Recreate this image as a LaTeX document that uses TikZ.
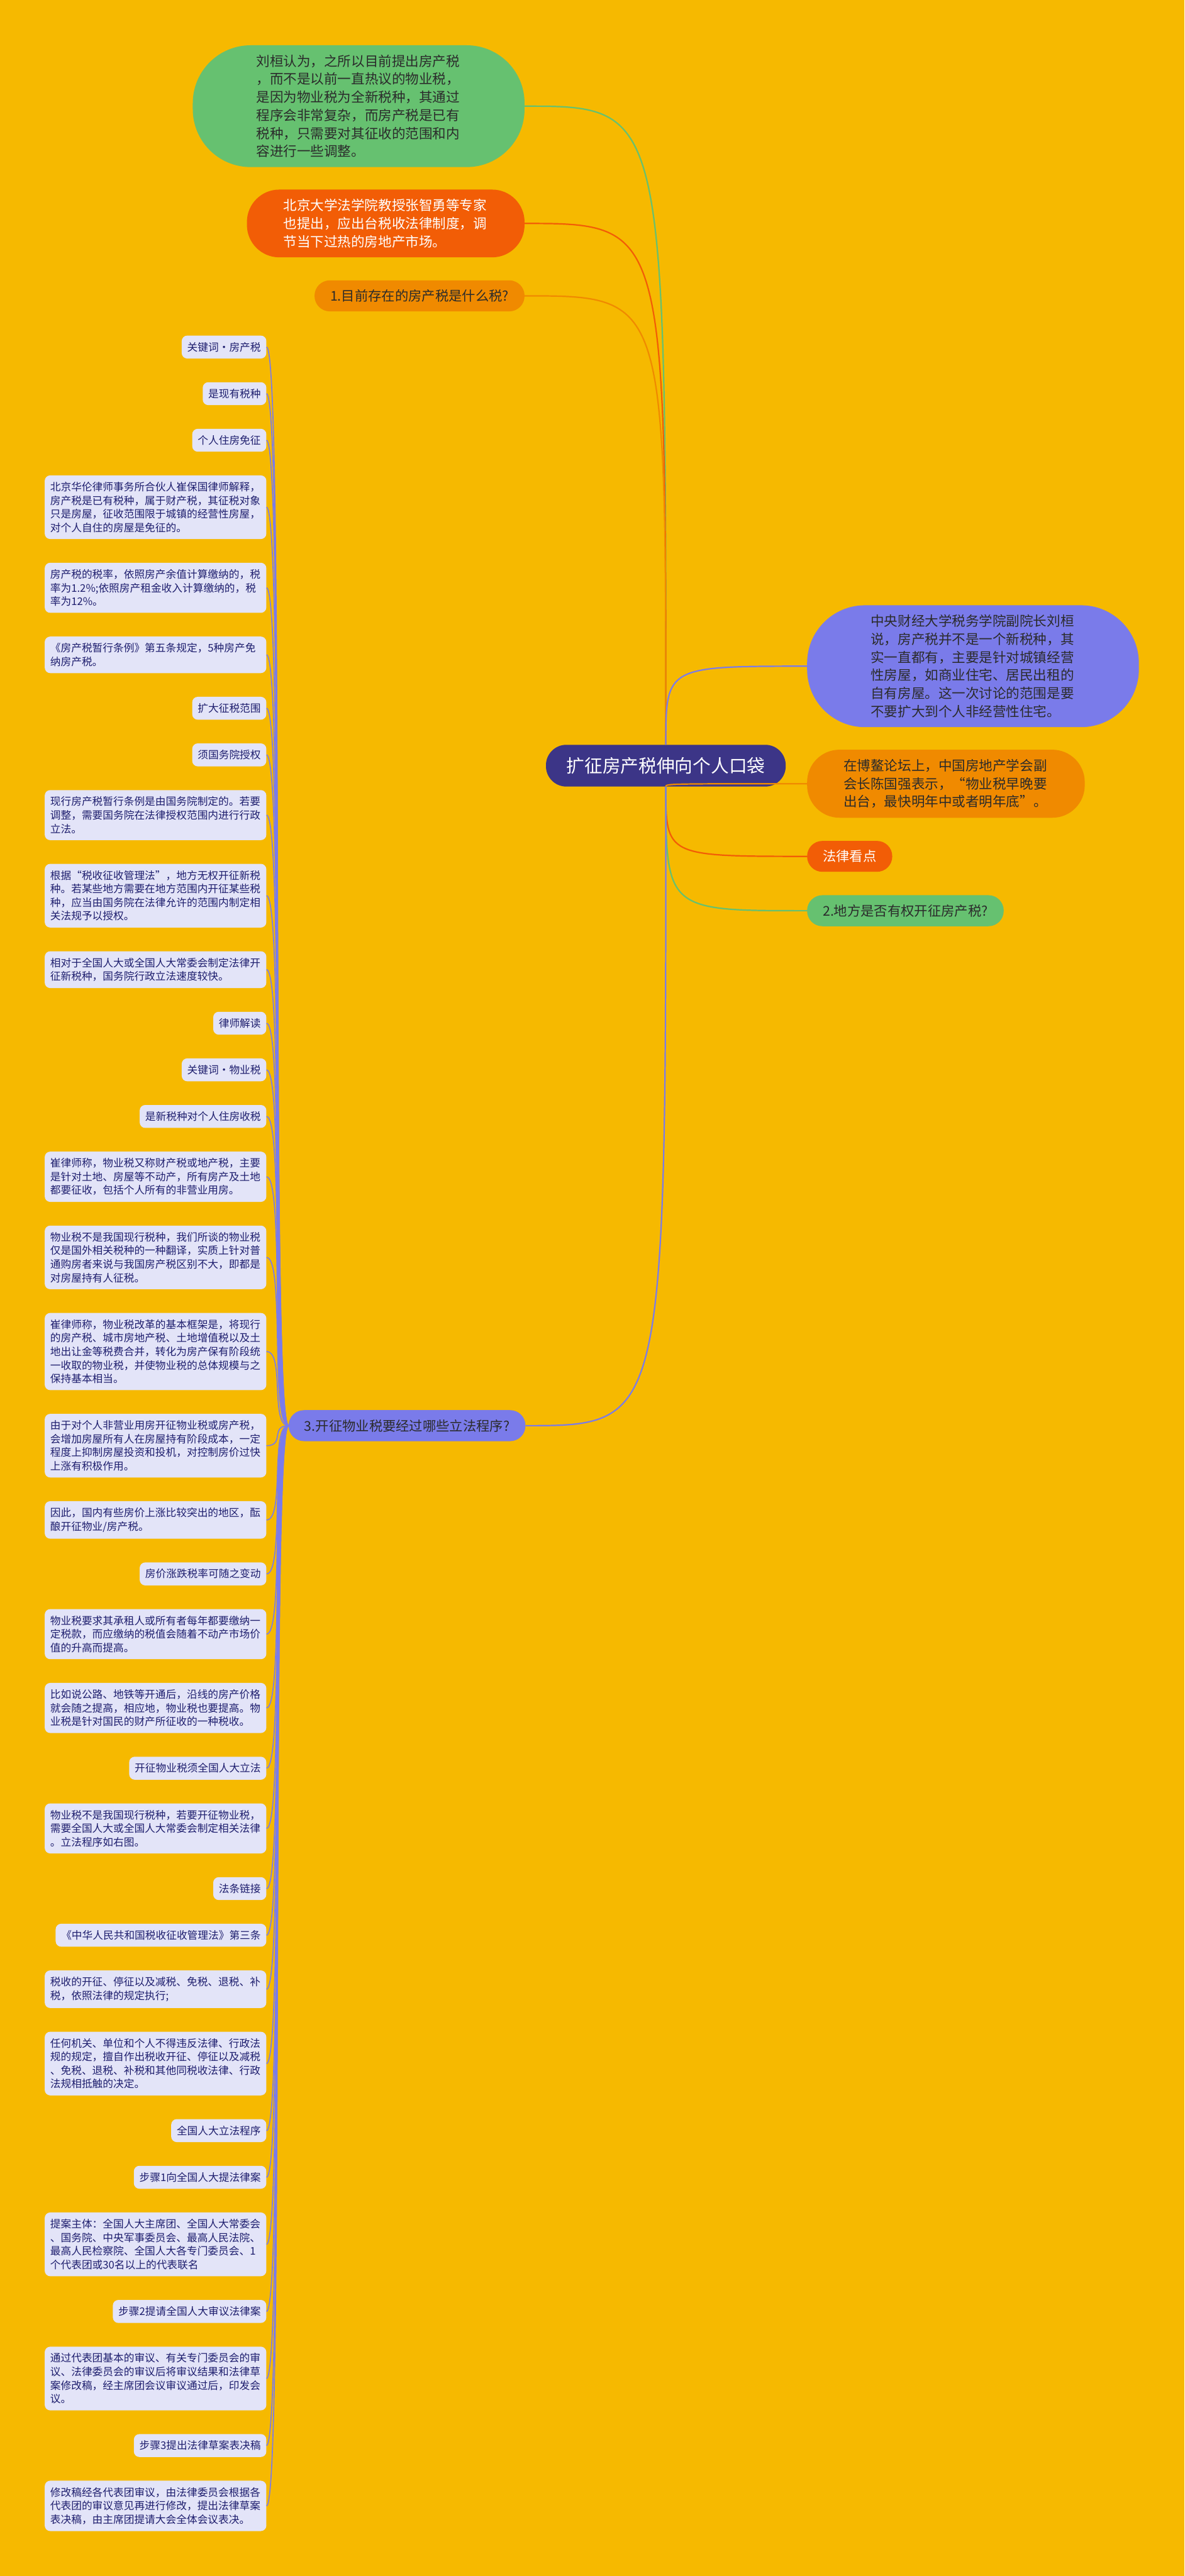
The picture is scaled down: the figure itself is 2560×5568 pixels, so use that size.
\documentclass[tikz,border=0pt]{standalone}
\usepackage{fontspec}
\setmainfont{Noto Sans CJK SC}
\usepackage{xcolor}
\usepackage{tikz}
\usetikzlibrary{positioning}

\definecolor{bg}{HTML}{F6B900}
\definecolor{rootblue}{HTML}{3C3587}
\definecolor{mint}{HTML}{66C170}
\definecolor{tomato}{HTML}{F25D06}
\definecolor{amber}{HTML}{F08A00}
\definecolor{periwinkle}{HTML}{7A7BEA}
\definecolor{lavender}{HTML}{E3E4F8}
\definecolor{navytext}{HTML}{1E1E6E}
\definecolor{darktext}{HTML}{2B2B2B}

\begin{document}
\begin{tikzpicture}[
          x=0.2mm, y=-0.2mm,
          node distance=10.1mm and 10mm,
          rootnode/.style={fill=rootblue,text=white,rounded corners=8.8mm,inner xsep=8.9mm,inner ysep=5.4mm,font=\fontsize{22.2pt}{26pt}\selectfont},
          branchnode/.style={text=darktext,rounded corners=6.6mm,inner xsep=6.8mm,inner ysep=4mm,font=\fontsize{16.5pt}{20pt}\selectfont},
          bubblenode/.style={text width=88.4mm,align=left,inner ysep=4.1mm,font=\fontsize{16.67pt}{22.2pt}\selectfont},
          widebubble/.style={bubblenode,inner xsep=27.5mm,rounded corners=25mm},
          slimbubble/.style={bubblenode,inner xsep=15.8mm,rounded corners=14mm},
          leafnode/.style={fill=lavender,text=navytext,rounded corners=2.4mm,inner xsep=2.4mm,inner ysep=2.85mm,font=\fontsize{12.92pt}{16.7pt}\selectfont,anchor=north east},
          notenode/.style={leafnode,text width=91mm,align=left},
          stackbelow/.style={below=of #1.south east,anchor=north east},
          rootedge/.style={line width=0.6mm},
          twig/.style={periwinkle,line width=0.45mm}
          ]

          \fill[bg] (0,0) rectangle (2560,5568);
          \useasboundingbox (0,0) rectangle (2560,5568);

          \node[rootnode] (root) at (1439,1655) {扩征房产税伸向个人口袋};

          \node[widebubble,fill=mint,text=darktext,anchor=east] (g1) at (1134,229.5) {刘桓认为，之所以目前提出房产税\\，而不是以前一直热议的物业税，\\是因为物业税为全新税种，其通过\\程序会非常复杂，而房产税是已有\\税种，只需要对其征收的范围和内\\容进行一些调整。};
          \node[slimbubble,fill=tomato,text=white,anchor=east] (t1) at (1134,483) {北京大学法学院教授张智勇等专家\\也提出，应出台税收法律制度，调\\节当下过热的房地产市场。};
          \node[branchnode,fill=amber,anchor=east] (q1) at (1134,639.5) {1.目前存在的房产税是什么税?};

          \node[widebubble,fill=periwinkle,text=darktext,anchor=west] (p1) at (1744,1440) {中央财经大学税务学院副院长刘桓\\说，房产税并不是一个新税种，其\\实一直都有，主要是针对城镇经营\\性房屋，如商业住宅、居民出租的\\自有房屋。这一次讨论的范围是要\\不要扩大到个人非经营性住宅。};
          \node[slimbubble,fill=amber,text=darktext,anchor=west] (a2) at (1744,1694) {在博鳌论坛上，中国房地产学会副\\会长陈国强表示，“物业税早晚要\\出台，最快明年中或者明年底”。};
          \node[branchnode,fill=tomato,text=white,anchor=west] (law) at (1744,1851) {法律看点};
          \node[branchnode,fill=mint,anchor=west] (q2) at (1744,1968.5) {2.地方是否有权开征房产税?};
          \node[branchnode,fill=periwinkle,anchor=east] (q3) at (1136,3081.5) {3.开征物业税要经过哪些立法程序?};

          \node[leafnode] (c1) at (576,725) {关键词·房产税};
          \node[leafnode,stackbelow=c1] (c2) {是现有税种};
          \node[leafnode,stackbelow=c2] (c3) {个人住房免征};
          \node[notenode,stackbelow=c3] (c4) {北京华伦律师事务所合伙人崔保国律师解释，\\房产税是已有税种，属于财产税，其征税对象\\只是房屋，征收范围限于城镇的经营性房屋，\\对个人自住的房屋是免征的。};
          \node[notenode,stackbelow=c4] (c5) {房产税的税率，依照房产余值计算缴纳的，税\\率为1.2\%;依照房产租金收入计算缴纳的，税\\率为12\%。};
          \node[notenode,stackbelow=c5] (c6) {《房产税暂行条例》第五条规定，5种房产免\\纳房产税。};
          \node[leafnode,stackbelow=c6] (c7) {扩大征税范围};
          \node[leafnode,stackbelow=c7] (c8) {须国务院授权};
          \node[notenode,stackbelow=c8] (c9) {现行房产税暂行条例是由国务院制定的。若要\\调整，需要国务院在法律授权范围内进行行政\\立法。};
          \node[notenode,stackbelow=c9] (c10) {根据“税收征收管理法”，地方无权开征新税\\种。若某些地方需要在地方范围内开征某些税\\种，应当由国务院在法律允许的范围内制定相\\关法规予以授权。};
          \node[notenode,stackbelow=c10] (c11) {相对于全国人大或全国人大常委会制定法律开\\征新税种，国务院行政立法速度较快。};
          \node[leafnode,stackbelow=c11] (c12) {律师解读};
          \node[leafnode,stackbelow=c12] (c13) {关键词·物业税};
          \node[leafnode,stackbelow=c13] (c14) {是新税种对个人住房收税};
          \node[notenode,stackbelow=c14] (c15) {崔律师称，物业税又称财产税或地产税，主要\\是针对土地、房屋等不动产，所有房产及土地\\都要征收，包括个人所有的非营业用房。};
          \node[notenode,stackbelow=c15] (c16) {物业税不是我国现行税种，我们所谈的物业税\\仅是国外相关税种的一种翻译，实质上针对普\\通购房者来说与我国房产税区别不大，即都是\\对房屋持有人征税。};
          \node[notenode,stackbelow=c16] (c17) {崔律师称，物业税改革的基本框架是，将现行\\的房产税、城市房地产税、土地增值税以及土\\地出让金等税费合并，转化为房产保有阶段统\\一收取的物业税，并使物业税的总体规模与之\\保持基本相当。};
          \node[notenode,stackbelow=c17] (c18) {由于对个人非营业用房开征物业税或房产税，\\会增加房屋所有人在房屋持有阶段成本，一定\\程度上抑制房屋投资和投机，对控制房价过快\\上涨有积极作用。};
          \node[notenode,stackbelow=c18] (c19) {因此，国内有些房价上涨比较突出的地区，酝\\酿开征物业/房产税。};
          \node[leafnode,stackbelow=c19] (c20) {房价涨跌税率可随之变动};
          \node[notenode,stackbelow=c20] (c21) {物业税要求其承租人或所有者每年都要缴纳一\\定税款，而应缴纳的税值会随着不动产市场价\\值的升高而提高。};
          \node[notenode,stackbelow=c21] (c22) {比如说公路、地铁等开通后，沿线的房产价格\\就会随之提高，相应地，物业税也要提高。物\\业税是针对国民的财产所征收的一种税收。};
          \node[leafnode,stackbelow=c22] (c23) {开征物业税须全国人大立法};
          \node[notenode,stackbelow=c23] (c24) {物业税不是我国现行税种，若要开征物业税，\\需要全国人大或全国人大常委会制定相关法律\\。立法程序如右图。};
          \node[leafnode,stackbelow=c24] (c25) {法条链接};
          \node[leafnode,stackbelow=c25] (c26) {《中华人民共和国税收征收管理法》第三条};
          \node[notenode,stackbelow=c26] (c27) {税收的开征、停征以及减税、免税、退税、补\\税，依照法律的规定执行;};
          \node[notenode,stackbelow=c27] (c28) {任何机关、单位和个人不得违反法律、行政法\\规的规定，擅自作出税收开征、停征以及减税\\、免税、退税、补税和其他同税收法律、行政\\法规相抵触的决定。};
          \node[leafnode,stackbelow=c28] (c29) {全国人大立法程序};
          \node[leafnode,stackbelow=c29] (c30) {步骤1向全国人大提法律案};
          \node[notenode,stackbelow=c30] (c31) {提案主体：全国人大主席团、全国人大常委会\\、国务院、中央军事委员会、最高人民法院、\\最高人民检察院、全国人大各专门委员会、1\\个代表团或30名以上的代表联名};
          \node[leafnode,stackbelow=c31] (c32) {步骤2提请全国人大审议法律案};
          \node[notenode,stackbelow=c32] (c33) {通过代表团基本的审议、有关专门委员会的审\\议、法律委员会的审议后将审议结果和法律草\\案修改稿，经主席团会议审议通过后，印发会\\议。};
          \node[leafnode,stackbelow=c33] (c34) {步骤3提出法律草案表决稿};
          \node[notenode,stackbelow=c34] (c35) {修改稿经各代表团审议，由法律委员会根据各\\代表团的审议意见再进行修改，提出法律草案\\表决稿，由主席团提请大会全体会议表决。};

          \draw[rootedge,mint] (root.north) .. controls (root.north |- g1.east) .. (g1.east);
          \draw[rootedge,tomato] (root.north) .. controls (root.north |- t1.east) .. (t1.east);
          \draw[rootedge,amber] (root.north) .. controls (root.north |- q1.east) .. (q1.east);
          \draw[rootedge,periwinkle] (root.north) .. controls (root.north |- p1.west) .. (p1.west);
          \draw[rootedge,amber] (root.south) .. controls (root.south |- a2.west) .. (a2.west);
          \draw[rootedge,tomato] (root.south) .. controls (root.south |- law.west) .. (law.west);
          \draw[rootedge,mint] (root.south) .. controls (root.south |- q2.west) .. (q2.west);
          \draw[rootedge,periwinkle] (root.south) .. controls (root.south |- q3.east) .. (q3.east);

          \foreach \i in {1,...,35}
            \draw[twig] (q3.west) .. controls +(-40,0) and +(40,0) .. (c\i.east);
        \end{tikzpicture}
\end{document}
